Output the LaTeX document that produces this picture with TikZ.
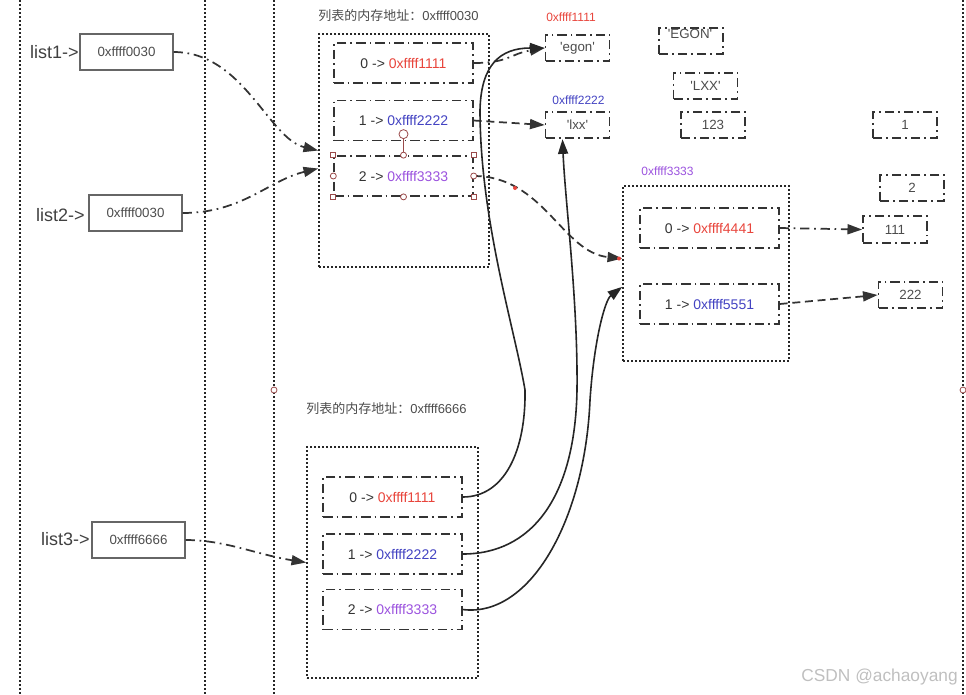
\documentclass[tikz,border=0pt]{standalone}
\usepackage{fontspec}
\setmainfont{Liberation Sans}
\newfontfamily\cjkfont{Noto Sans CJK SC}
\usetikzlibrary{arrows.meta}
\definecolor{addr_red}{HTML}{E8453C}
\definecolor{addr_blue}{HTML}{4343C2}
\definecolor{addr_purple}{HTML}{9B52DE}
\definecolor{line_gray}{HTML}{333333}
\definecolor{handle_red}{HTML}{9A4A4A}
\newcommand{\strq}[1]{\textquotesingle#1\textquotesingle}
\tikzset{
    dotted_area/.style={draw=black!85, line width=1.2pt, dash pattern=on 1.2pt off 1.8pt, inner sep=0pt},
    elem_box/.style={draw=line_gray, line width=1.3pt, dash pattern=on 7pt off 3pt on 1.3pt off 3pt,
        minimum width=104pt, minimum height=30pt, inner sep=0pt, text=line_gray, font=\fontsize{10.5}{12}\selectfont},
    val_box/.style={elem_box, minimum width=48pt, minimum height=20pt, text=black!70, font=\fontsize{10}{12}\selectfont},
    ref_box/.style={draw=black!60, line width=0.8pt, minimum width=69.75pt, minimum height=27pt, inner sep=0pt,
        text=black!70, font=\fontsize{10}{12}\selectfont},
    ref_name/.style={anchor=east, inner sep=0pt, text=black!75, font=\fontsize{13.5}{16}\selectfont},
    addr_label/.style={inner sep=0pt, font=\fontsize{9}{11}\selectfont},
    title_label/.style={anchor=west, inner sep=0pt, text=black!70, font=\fontsize{9.75}{12}\selectfont},
    dash_dot_arrow/.style={draw=line_gray, line width=1.3pt, dash pattern=on 7pt off 3.5pt on 1.3pt off 3.5pt,
        -{Triangle[length=11pt,width=7.5pt]}},
    dash_arrow/.style={draw=line_gray, line width=1.3pt, dash pattern=on 6pt off 3.5pt, -{Triangle[length=11pt,width=7.5pt]}},
    solid_arrow/.style={draw=black!85, line width=1.2pt, -{Triangle[length=11pt,width=7.5pt]}},
    handle_sq/.style={draw=handle_red, fill=white, line width=0.6pt, minimum size=3.75pt, inner sep=0pt},
    handle_ci/.style={handle_sq, circle, minimum size=4.5pt}
}
\begin{document}
\begin{tikzpicture}[x=0.75pt, y=-0.75pt]
    \useasboundingbox (0, 0) rectangle (966, 694);
    \foreach \xl in {20, 205, 274, 963}
        \draw[dotted_area, line width=1pt] (\xl, 0) -- (\xl, 694);
    \node[handle_ci] (line_handle_a) at (274, 390) {};
    \node[handle_ci] (line_handle_b) at (963, 390) {};

    \node[ref_name] (list1_name) at (79, 52) {list1->};
    \node[ref_name] (list2_name) at (85, 215) {list2->};
    \node[ref_name] (list3_name) at (90, 539) {list3->};
    \node[ref_box] (list1_box) at (126.5, 52) {0xffff0030};
    \node[ref_box] (list2_box) at (135.5, 213) {0xffff0030};
    \node[ref_box] (list3_box) at (138.5, 540) {0xffff6666};

    \node[title_label] (mem_a_title) at (318, 16) {{\cjkfont 列表的内存地址：}0xffff0030};
    \node[dotted_area, minimum width=127.5pt, minimum height=174.75pt] (mem_a) at (404, 150.5) {};
    \node[elem_box] (mem_a_0) at (403.5, 63) {0 -> \textcolor{addr_red}{0xffff1111}};
    \node[elem_box] (mem_a_1) at (403.5, 120.5) {1 -> \textcolor{addr_blue}{0xffff2222}};
    \node[elem_box] (mem_a_2) at (403.5, 176) {2 -> \textcolor{addr_purple}{0xffff3333}};

    \node[title_label] (mem_b_title) at (306, 409) {{\cjkfont 列表的内存地址：}0xffff6666};
    \node[dotted_area, minimum width=128.25pt, minimum height=173.25pt] (mem_b) at (392.5, 562.5) {};
    \node[elem_box] (mem_b_0) at (392.5, 497) {0 -> \textcolor{addr_red}{0xffff1111}};
    \node[elem_box] (mem_b_1) at (392.5, 554) {1 -> \textcolor{addr_blue}{0xffff2222}};
    \node[elem_box] (mem_b_2) at (392.5, 609.5) {2 -> \textcolor{addr_purple}{0xffff3333}};

    \node[addr_label, text=addr_purple] (mem_c_title) at (667.5, 171) {0xffff3333};
    \node[dotted_area, minimum width=124.5pt, minimum height=131.25pt] (mem_c) at (706, 273.5) {};
    \node[elem_box] (mem_c_0) at (709.5, 228) {0 -> \textcolor{addr_red}{0xffff4441}};
    \node[elem_box] (mem_c_1) at (709.5, 304) {1 -> \textcolor{addr_blue}{0xffff5551}};

    \node[addr_label, text=addr_red] (egon_addr) at (571, 17) {0xffff1111};
    \node[addr_label, text=addr_blue] (lxx_addr) at (578.5, 100) {0xffff2222};
    \node[val_box] (egon_box) at (577.5, 48) {\strq{egon}};
    \node[val_box] (lxx_box) at (577.5, 125) {\strq{lxx}};
    \node[val_box] (egon_up_box) at (691, 41) {};
    \node[inner sep=0pt, text=black!70, font=\fontsize{10}{12}\selectfont] (egon_up_text) at (690, 34) {\strq{EGON}};
    \node[val_box] (lxx_up_box) at (705.5, 86) {\strq{LXX}};
    \node[val_box] (v123_box) at (713, 125) {123};
    \node[val_box] (v1_box) at (905, 125) {1};
    \node[val_box] (v2_box) at (912, 188) {2};
    \node[val_box] (v111_box) at (895, 229.5) {111};
    \node[val_box] (v222_box) at (910.5, 295) {222};

    \draw[dash_dot_arrow] (list1_box.east) .. controls +(70, 0) and +(-50, -12) .. (mem_a.west);
    \draw[dash_dot_arrow] (list2_box.east) .. controls +(60, 0) and +(-50, 12) .. ([yshift=-13.5pt]mem_a.west);
    \draw[dash_dot_arrow] (list3_box.east) .. controls +(40, 0) and +(-50, -8) .. (mem_b.west);
    \draw[dash_dot_arrow] (mem_a_0.east) .. controls +(35, 0) and +(-35, 6) .. (egon_box.west);
    \draw[dash_arrow] (mem_a_1.east) -- (lxx_box.west);
    \draw[dash_arrow] (mem_a_2.east) .. controls +(70, 0) and +(-60, -6) .. ([yshift=11.25pt]mem_c.west);
    \draw[solid_arrow] (mem_b_0.east) .. controls (505, 497) and (526, 450) .. (525, 390)
        .. controls (515, 330) and (480, 220) .. (480, 110)
        .. controls (481, 65) and (500, 48) .. (egon_box.west);
    \draw[solid_arrow] (mem_b_1.east) .. controls (530, 554) and (575, 500) .. (577, 390)
        .. controls (578, 300) and (565, 200) .. ([xshift=-11.25pt]lxx_box.south);
    \draw[solid_arrow] (mem_b_2.east) .. controls (530, 618) and (585, 520) .. (590, 400)
        .. controls (594, 340) and (605, 300) .. ([yshift=-10pt]mem_c.west);
    \draw[dash_dot_arrow] (mem_c_0.east) -- (v111_box.west);
    \draw[dash_arrow] (mem_c_1.east) -- (v222_box.west);
    \fill[addr_red] (515, 188) circle (2);
    \fill[addr_red] (619, 258.5) circle (2);

    \draw[handle_red, line width=0.6pt] (mem_a_2.north) -- ++(0, -21) node[handle_ci, minimum size=6.75pt] (rot_handle) {};
    \foreach \an/\nm in {north west/1, north east/2, south west/3, south east/4}
        \node[handle_sq] (sq_handle_\nm) at (mem_a_2.\an) {};
    \foreach \an/\nm in {north/1, south/2, west/3, east/4}
        \node[handle_ci] (ci_handle_\nm) at (mem_a_2.\an) {};

    \node[anchor=east, inner sep=0pt, text=black!25, font=\fontsize{13}{15}\selectfont] (mark_text) at (958, 677) {CSDN @achaoyang};
\end{tikzpicture}
\end{document}
